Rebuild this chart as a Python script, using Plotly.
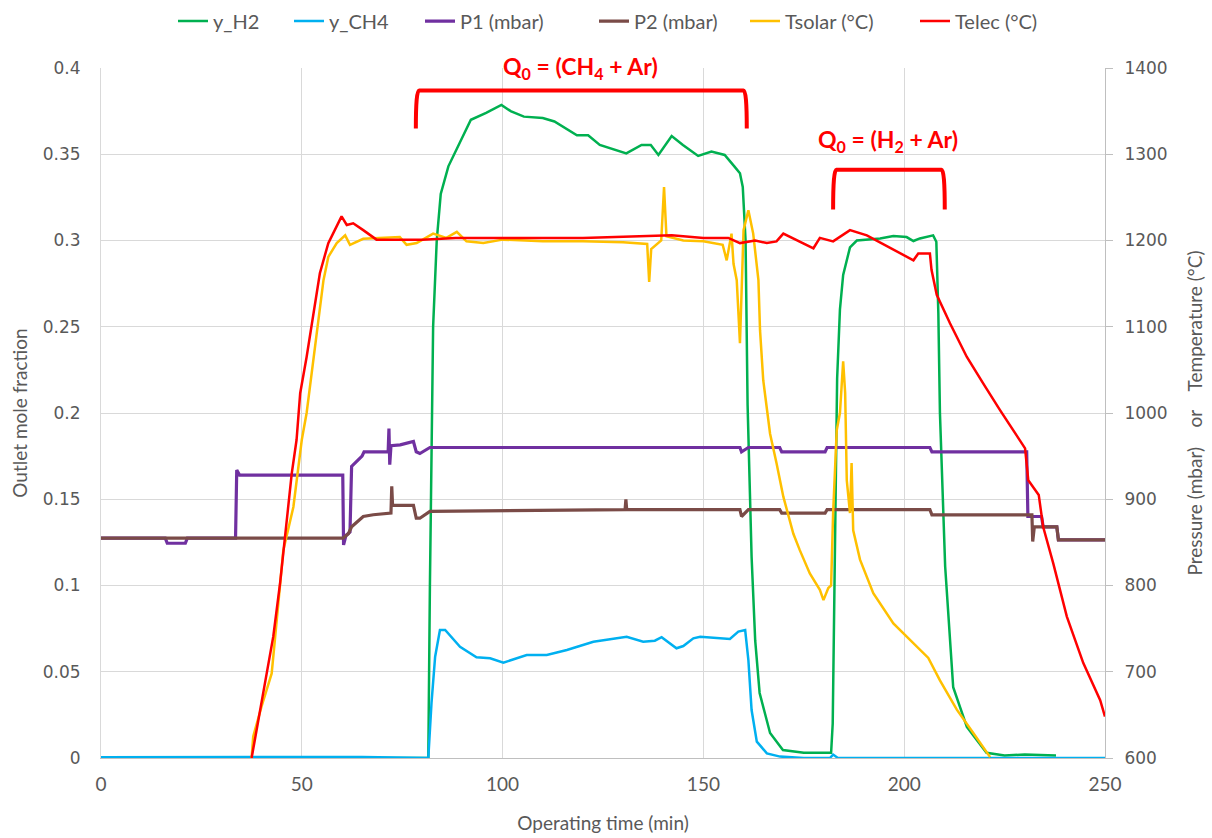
import plotly.graph_objects as go

# ---------------- data ----------------
t_H2 = [0, 81.5, 81.9, 82.7, 83.6, 84.6, 86.5, 88.3, 92.1, 95.9, 99.7, 102, 105.3, 110, 112.9,
        118.5, 121.3, 124.2, 130.8, 134.6, 136.9, 138.8, 142.1, 144.9, 148.7, 152, 155.3, 157.7,
        159.1, 159.8, 160.5, 161, 162, 162.9, 164, 166.6, 169.8, 175, 180.7, 181.8, 182.2, 182.7,
        183.3, 184, 184.8, 186.5, 188.2, 194, 197.3, 200.6, 202.3, 203.9, 207.2, 208, 208.5, 208.9,
        210.2, 212.2, 215.6, 220.5, 225, 230, 237.8]
y_H2 = [0, 0, 0.10, 0.25, 0.30, 0.327, 0.343, 0.352, 0.370, 0.374, 0.3786, 0.375, 0.3718, 0.371, 0.369,
        0.361, 0.361, 0.3554, 0.3505, 0.3554, 0.3554, 0.3496, 0.3606, 0.3554, 0.349, 0.3515, 0.3496, 0.343,
        0.339, 0.331, 0.30, 0.205, 0.1167, 0.068, 0.0377, 0.0145, 0.0046, 0.003, 0.0028, 0.003, 0.02, 0.12,
        0.22, 0.26, 0.28, 0.296, 0.300, 0.3012, 0.3026, 0.302, 0.2997, 0.3012, 0.303, 0.2993, 0.258, 0.2,
        0.111, 0.041, 0.018, 0.003, 0.0015, 0.002, 0.0015]

t_CH4 = [0, 65, 81.5, 82.3, 83.2, 84.4, 85.7, 89.4, 93.5, 96.9, 100.2, 106, 111, 116, 122.6, 127.6,
         130.9, 135, 137.9, 139.6, 141.7, 143.3, 145, 147.5, 149.2, 156.6, 158.7, 160.4, 161.2, 162,
         163.3, 165.8, 169.1, 175, 181.5, 182.3, 183.5, 250]
y_CH4 = [0.0004, 0.0006, 0, 0.032, 0.0587, 0.0742, 0.0742, 0.0645, 0.0584, 0.0578, 0.0553, 0.0597,
         0.0597, 0.0626, 0.0674, 0.069, 0.0703, 0.0674, 0.068, 0.07, 0.0665, 0.0636, 0.0649, 0.0694,
         0.0703, 0.069, 0.0733, 0.0742, 0.0568, 0.0278, 0.0095, 0.0027, 0.0008, 0, 0, 0.002, 0, 0]

t_P1 = [0, 16, 16.5, 21, 21.5, 33.5, 33.8, 34.5, 60.2, 60.4, 61, 62, 62.4, 65, 65.5, 71.5, 71.7, 71.9,
        72.2, 74.5, 77.8, 78.5, 79.4, 81.9, 159.1, 159.5, 161.2, 169, 169.5, 180.3, 180.8, 206.4, 206.9,
        230.5, 230.8, 234.2, 234.6, 238, 238.4, 250]
P1 = [855, 855, 849, 849, 855, 855, 934, 928, 928, 847, 858, 862, 938, 950, 955, 955, 982, 940,
      962, 963, 967, 955, 953, 960, 960, 955, 960, 960, 955, 955, 960, 960, 955,
      955, 880, 880, 868, 868, 853, 853]

t_P2 = [0, 60.3, 61.6, 62.4, 65.3, 67.8, 72.2, 72.4, 72.6, 74.5, 77.8, 78.5, 79.4, 81.9, 130.5,
        130.7, 130.9, 159.1, 159.5, 161.2, 169, 169.5, 180.3, 180.8, 206.4, 206.9, 231.8, 232, 232.4,
        232.8, 238, 238.4, 250]
P2 = [855, 855, 860, 868, 880, 882, 884, 915, 893, 893, 893, 878, 878, 886, 888,
      900, 888, 888, 880, 888, 888, 884, 884, 888, 888, 882, 882, 851, 868,
      868, 868, 853, 853]

t_Ts = [37.5, 37.9, 40, 42.5, 43.3, 45.4, 47.9, 49.1, 50, 51.2, 53.3, 55.4, 56.6, 58.7, 60.8, 62,
        65.3, 70, 74.4, 76.1, 78.6, 82.7, 86, 88.6, 91, 95.2, 100, 110, 120, 130, 136, 136.5, 137,
        139.5, 140.2, 140.8, 145, 150, 154.8, 155.8, 157, 157.5, 158.3, 159.1, 160, 161.2, 162.4,
        163.7, 164.1, 164.9, 165.8, 166.6, 168.2, 169.9, 172.4, 174, 176.5, 179, 179.9, 181.1,
        181.8, 182.3, 183.2, 184, 184.8, 185.3, 185.7, 186.5, 186.9, 187.3, 189, 192.3, 197.3,
        202.3, 206, 208.9, 213.1, 217.2, 221.4]
Tsolar = [600, 625, 660, 698, 737, 841, 891, 938, 969, 1000, 1077, 1154, 1181, 1197, 1206, 1195,
          1202, 1203, 1204, 1195, 1197, 1208, 1203, 1210, 1199, 1197, 1201, 1199, 1199, 1198, 1196, 1152, 1190,
          1200, 1262, 1205, 1200, 1199, 1195, 1177, 1208, 1173, 1154, 1081, 1212, 1235, 1208,
          1154, 1096, 1038, 1007, 976, 942, 903, 860, 841, 814, 795, 783, 797,
          800, 884, 980, 1000, 1060, 1023, 922, 884, 942, 864, 830, 791, 756,
          733, 716, 690, 656, 629, 601]

t_Te = [37.5, 40.4, 42.9, 44.6, 45.8, 47.5, 48.7, 49.6, 51.2, 52.9, 54.5, 56.6, 58.3, 59.9, 61.2,
        62.8, 65.3, 68.6, 80, 88.3, 100, 120, 142.1, 150, 156.2, 159.1, 162.9, 165.8, 168.2, 169.9,
        177.4, 179, 182.3, 186.5, 190.7, 202.3, 203.5, 206.4, 206.8, 208.1, 211.4, 215.6, 219.7,
        223.9, 230.1, 230.9, 233.5, 234.6, 237.1, 240.5, 244.6, 248.8, 250]
Telec = [600, 675, 741, 803, 853, 930, 969, 1023, 1065, 1116, 1162, 1197, 1212, 1228, 1218,
         1220, 1212, 1201, 1201, 1203, 1203, 1203, 1206, 1203, 1203, 1197, 1200, 1197, 1199, 1208,
         1191, 1203, 1199, 1212, 1206, 1177, 1185, 1185, 1166, 1137, 1104, 1065, 1034,
         1003, 959, 922, 905, 868, 826, 764, 710, 667, 648]

x_ticks = [0, 50, 100, 150, 200, 250]
y_ticks = [0, 0.05, 0.1, 0.15, 0.2, 0.25, 0.3, 0.35, 0.4]
y_ticklabels = ["0", "0.05", "0.1", "0.15", "0.2", "0.25", "0.3", "0.35", "0.4"]
y2_ticks = [600, 700, 800, 900, 1000, 1100, 1200, 1300, 1400]

# bracket annotations: (x_left, x_right, y_top, y_bottom) and labels
bracket1 = (78.4, 160.8, 0.387, 0.365)
bracket2 = (182.3, 210.1, 0.341, 0.318)
label1 = ("Q<sub>0</sub> = (CH<sub>4</sub> + Ar)", 119.3, 1.0)   # y in paper units (top of plot)
label2 = ("Q<sub>0</sub> = (H<sub>2</sub> + Ar)", 196.0, 0.3565)

# ---------------- figure ----------------
CAL = "Lato, Carlito, Calibri, sans-serif"
WIDE = "DejaVu Sans, Verdana, sans-serif"
GREY = "#595959"

series = [
    ("y_H2", t_H2, y_H2, "y", "#00b050", 2.5),
    ("y_CH4", t_CH4, y_CH4, "y", "#00b0f0", 2.5),
    ("P1 (mbar)", t_P1, P1, "y2", "#7030a0", 3.2),
    ("P2 (mbar)", t_P2, P2, "y2", "#7a4b47", 3.2),
    ("Tsolar (°C)", t_Ts, Tsolar, "y2", "#ffc000", 2.5),
    ("Telec (°C)", t_Te, Telec, "y2", "#ff0000", 2.5),
]
# left pixel where each legend entry starts in the reference
legend_px = [174, 290, 421, 595, 746, 916]
draw_order = [2, 3, 4, 5, 0, 1]

fig = go.Figure()
legend_layout = {}
for i in draw_order:
    name, xs, ys, ax, col, w = series[i]
    lg = "legend" if i == 0 else f"legend{i + 1}"
    fig.add_trace(go.Scatter(x=xs, y=ys, name=name, yaxis=ax, mode="lines",
                             line=dict(color=col, width=w), legend=lg))
    legend_layout[lg] = dict(
        x=(legend_px[i] - 101 - 1) / 1004, xanchor="left", y=1.068, yanchor="middle",
        orientation="h", bgcolor="rgba(0,0,0,0)",
        font=dict(family=CAL, size=20, color=GREY), itemwidth=30)

def bracket_path(b):
    x0, x1, yt, yb = b
    return (f"M {x0},{yb} Q {x0},{yt} {x0 + 0.8},{yt} L {x1 - 0.8},{yt} "
            f"Q {x1},{yt} {x1},{yb}")

for b in (bracket1, bracket2):
    fig.add_shape(type="path", path=bracket_path(b), xref="x", yref="y",
                  line=dict(color="#ff0000", width=4))

fig.add_annotation(text=f"<b>{label1[0]}</b>", x=label1[1], y=label1[2], xref="x", yref="paper",
                   showarrow=False, yshift=18, font=dict(family=CAL, size=23, color="#ff0000"))
fig.add_annotation(text=f"<b>{label2[0]}</b>", x=label2[1], y=label2[2], xref="x", yref="y",
                   showarrow=False, yshift=3, font=dict(family=CAL, size=23, color="#ff0000"))

fig.update_layout(
    width=1212, height=838,
    margin=dict(l=101, r=107, t=68, b=80, autoexpand=False),
    plot_bgcolor="white", paper_bgcolor="white",
    showlegend=True,
    xaxis=dict(range=[0, 250], tickvals=x_ticks, showgrid=True, gridcolor="#d9d9d9",
               gridwidth=1, zeroline=False, showline=True, linecolor="#bfbfbf", linewidth=1,
               ticks="", ticklabelstandoff=9, tickfont=dict(family=CAL, size=19, color=GREY),
               title=dict(text="Operating time (min)", font=dict(family=CAL, size=19, color=GREY),
                          standoff=22)),
    yaxis=dict(range=[0, 0.4], tickvals=y_ticks, ticktext=y_ticklabels, showgrid=True,
               gridcolor="#d9d9d9", gridwidth=1, zeroline=False, showline=True,
               linecolor="#d9d9d9", ticks="", ticklabelstandoff=16,
               tickfont=dict(family=WIDE, size=17, color=GREY),
               title=dict(text="Outlet mole fraction", font=dict(family=CAL, size=19, color=GREY),
                          standoff=10)),
    yaxis2=dict(range=[600, 1400], tickvals=y2_ticks, overlaying="y", side="right",
                showgrid=False, zeroline=False, showline=True, linecolor="#bfbfbf", linewidth=1,
                ticks="outside", ticklen=7, tickcolor="#bfbfbf", ticklabelstandoff=8,
                tickfont=dict(family=WIDE, size=17, color=GREY),
                title=dict(text="Pressure (mbar)\u00a0\u00a0\u00a0\u00a0or\u00a0\u00a0\u00a0\u00a0Temperature (°C)",
                           font=dict(family=CAL, size=19, color=GREY), standoff=22)),
    **legend_layout,
)

fig.write_html("out.html", config={"displayModeBar": False},
               post_script="document.body.style.margin='0';")
